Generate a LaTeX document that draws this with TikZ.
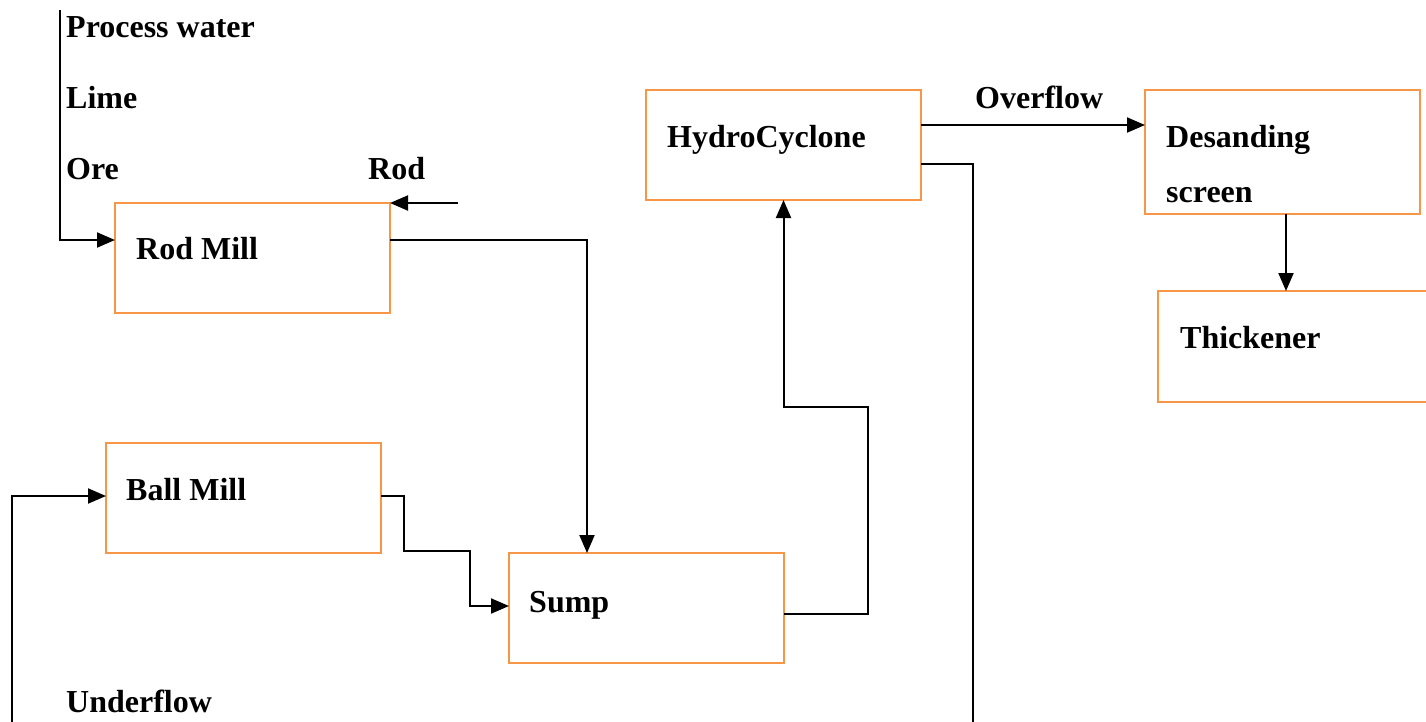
\documentclass[tikz,border=0pt]{standalone}
\usepackage{fontspec}
\setmainfont{Liberation Serif}
\usetikzlibrary{arrows.meta,calc}
\definecolor{boxor}{HTML}{F79646}
\begin{document}
\begin{tikzpicture}[x=1pt,y=-1pt,
  box/.style={draw=boxor,line width=2pt,minimum width=275pt,minimum height=110pt,inner sep=0pt,outer sep=0pt,anchor=north west},
  txt/.style={font=\fontsize{32}{38}\selectfont\bfseries,anchor=base west,inner sep=0pt},
  con/.style={line width=2pt,draw=black},
  arr/.style={con,-{Triangle[length=18pt,width=15pt]}}]
\useasboundingbox (0,0) rectangle (1426,721);
\clip (0,0) rectangle (1426,721);
% boxes
\node[box] (rod) at (115,203) {};
\node[box] (ball) at (106,443) {};
\node[box] (sump) at (509,553) {};
\node[box] (hc) at (646,90) {};
\node[box,minimum height=124pt] (ds) at (1145,90) {};
\node[box,minimum width=290pt,minimum height=111pt] (th) at (1158,291) {};
% texts
\node[txt] (tpw) at (66,37) {Process water};
\node[txt] (tlime) at (66,108) {Lime};
\node[txt] (tore) at (66,179) {Ore};
\node[txt] (trod) at (368,179) {Rod};
\node[txt] (tund) at (66,712) {Underflow};
\node[txt] (tover) at (975,108) {Overflow};
\node[txt] (trm) at (136,259) {Rod Mill};
\node[txt] (tbm) at (126,500) {Ball Mill};
\node[txt] (tsump) at (529,612) {Sump};
\node[txt] (thc) at (667,147) {HydroCyclone};
\node[txt] (tds1) at (1166,147) {Desanding};
\node[txt] (tds2) at (1166,202) {screen};
\node[txt] (tth) at (1180,348) {Thickener};
% connectors
\coordinate (feedtop) at (60,10);
\coordinate (rodsrc) at (458,203);
\coordinate (ufbot) at (12,725);
\coordinate (hcbot) at (973,725);
\draw[arr] (feedtop) |- ($(rod.north west)+(0,37)$);
\draw[arr] (rodsrc) -- (rod.north east);
\draw[arr] ($(rod.north east)+(0,37)$) -| ($(sump.north west)+(78,0)$);
\draw[arr] ($(ball.north east)+(0,53)$) -| (404,551) -| (470,606) -- ($(sump.north west)+(0,53)$);
\draw[arr] ($(sump.north east)+(0,61)$) -| (868,407) -| (hc.south);
\draw[arr] ($(hc.north east)+(0,35)$) -- ($(ds.north west)+(0,35)$);
\draw[con] ($(hc.north east)+(0,74)$) -| (hcbot);
\draw[arr] (ufbot) |- ($(ball.north west)+(0,53)$);
\draw[arr] ($(ds.south west)+(141,0)$) -- ($(th.north west)+(128,0)$);
\end{tikzpicture}
\end{document}
